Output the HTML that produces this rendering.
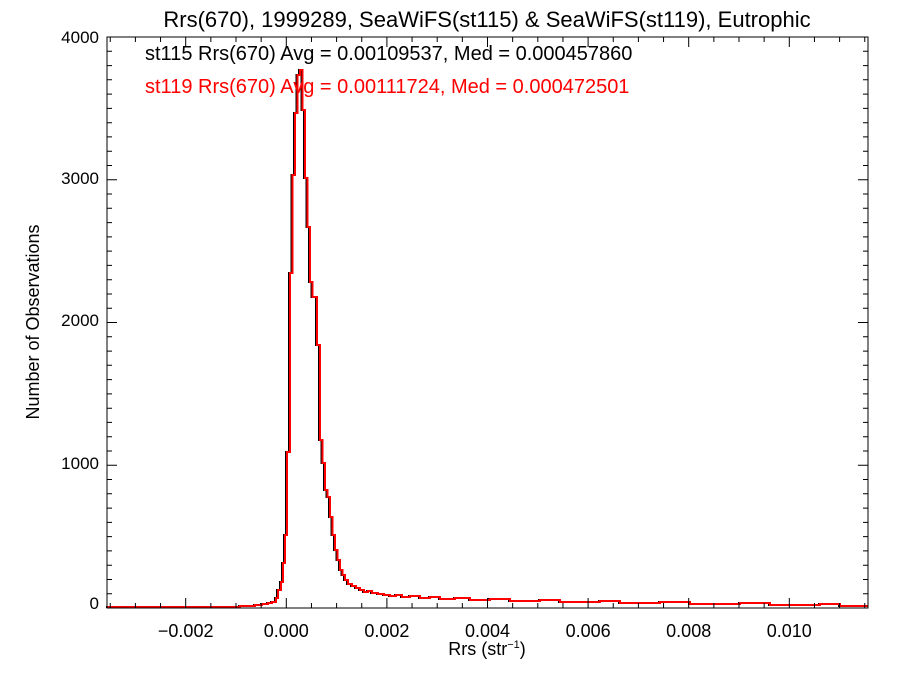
<!DOCTYPE html>
<html><head><meta charset="utf-8"><style>
body{margin:0;background:#fff}
svg{display:block;font-family:"Liberation Sans",Arial,sans-serif}
</style></head><body>
<svg width="900" height="675" viewBox="0 0 900 675" xmlns="http://www.w3.org/2000/svg">
<rect width="900" height="675" fill="#fff"/>
<path d="M106,607 H239 V606 H254 V605 H261 V604 H267 V603 H271 V602 H275 V598 H277 V590 H280 V582 H282 V563 H284 V535 H286 V452 H289 V273 H291.5 V175 H294 V113 H296.5 V75 H299 V70 H301.5 V110 H304 V178 H306.5 V227 H309 V282 H311.5 V297 H316 V345 H319 V440 H321.5 V463 H324 V490 H326.5 V497 H329 V517 H331.5 V535 H334 V550 H336.5 V560 H339 V570 H341.5 V575 H344 V580 H347 V584 H351 V586 H355 V588 H359 V590 H363 V592 H367 V591 H371 V593 H377 V594 H383 V595 H389 V596 H395 V595 H401 V597 H409 V596 H419 V598 H429 V597 H439 V599 H454 V598 H469 V600 H489 V599 H509 V601 H539 V600 H559 V602 H599 V601 H619 V603 H659 V602 H689 V604 H739 V603 H769 V605 H819 V604 H839 V606 H867" fill="none" stroke="#000" stroke-width="2"/>
<path d="M107,607 H240 V606 H255 V605 H262 V604 H268 V603 H272 V602 H276 V598 H278 V590 H281 V582 H283 V563 H285 V535 H287 V452 H290 V273 H292.5 V175 H295 V113 H297.5 V75 H300 V70 H302.5 V110 H305 V178 H307.5 V227 H310 V282 H312.5 V297 H317 V345 H320 V440 H322.5 V463 H325 V490 H327.5 V497 H330 V517 H332.5 V535 H335 V550 H337.5 V560 H340 V570 H342.5 V575 H345 V580 H348 V584 H352 V586 H356 V588 H360 V590 H364 V592 H368 V591 H372 V593 H378 V594 H384 V595 H390 V596 H396 V595 H402 V597 H410 V596 H420 V598 H430 V597 H440 V599 H455 V598 H470 V600 H490 V599 H510 V601 H540 V600 H560 V602 H600 V601 H620 V603 H660 V602 H690 V604 H740 V603 H770 V605 H820 V604 H840 V606 H868" fill="none" stroke="#f00" stroke-width="2"/>
<rect x="107" y="37" width="761" height="571" fill="none" stroke="#000" stroke-width="1"/>
<path stroke="#000" stroke-width="1" fill="none" d="
M110.25,608v-5M135.4,608v-5M160.55,608v-5M185.7,608v-10M210.85,608v-5M236,608v-5M261.15,608v-5M286.3,608v-10M311.45,608v-5M336.6,608v-5M361.75,608v-5M386.9,608v-10M412.05,608v-5M437.2,608v-5M462.35,608v-5M487.5,608v-10M512.65,608v-5M537.8,608v-5M562.95,608v-5M588.1,608v-10M613.25,608v-5M638.4,608v-5M663.55,608v-5M688.7,608v-10M713.85,608v-5M739,608v-5M764.15,608v-5M789.3,608v-10M814.45,608v-5M839.6,608v-5M864.75,608v-5
M110.25,37v5M135.4,37v5M160.55,37v5M185.7,37v10M210.85,37v5M236,37v5M261.15,37v5M286.3,37v10M311.45,37v5M336.6,37v5M361.75,37v5M386.9,37v10M412.05,37v5M437.2,37v5M462.35,37v5M487.5,37v10M512.65,37v5M537.8,37v5M562.95,37v5M588.1,37v10M613.25,37v5M638.4,37v5M663.55,37v5M688.7,37v10M713.85,37v5M739,37v5M764.15,37v5M789.3,37v10M814.45,37v5M839.6,37v5M864.75,37v5
M107,593.7h5M107,579.5h5M107,565.2h5M107,550.9h5M107,536.6h5M107,522.4h5M107,508.1h5M107,493.8h5M107,479.5h5M107,465.25h10M107,451h5M107,436.7h5M107,422.4h5M107,408.2h5M107,393.9h5M107,379.6h5M107,365.3h5M107,351.1h5M107,336.8h5M107,322.5h10M107,308.2h5M107,294h5M107,279.7h5M107,265.4h5M107,251.1h5M107,236.9h5M107,222.6h5M107,208.3h5M107,194h5M107,179.75h10M107,165.5h5M107,151.2h5M107,136.9h5M107,122.7h5M107,108.4h5M107,94.1h5M107,79.8h5M107,65.6h5M107,51.3h5
M868,593.7h-5M868,579.5h-5M868,565.2h-5M868,550.9h-5M868,536.6h-5M868,522.4h-5M868,508.1h-5M868,493.8h-5M868,479.5h-5M868,465.25h-10M868,451h-5M868,436.7h-5M868,422.4h-5M868,408.2h-5M868,393.9h-5M868,379.6h-5M868,365.3h-5M868,351.1h-5M868,336.8h-5M868,322.5h-10M868,308.2h-5M868,294h-5M868,279.7h-5M868,265.4h-5M868,251.1h-5M868,236.9h-5M868,222.6h-5M868,208.3h-5M868,194h-5M868,179.75h-10M868,165.5h-5M868,151.2h-5M868,136.9h-5M868,122.7h-5M868,108.4h-5M868,94.1h-5M868,79.8h-5M868,65.6h-5M868,51.3h-5"/>
<g font-size="18" text-anchor="middle">
<text x="185.7" y="637">−0.002</text>
<text x="286.3" y="637">0.000</text>
<text x="386.9" y="637">0.002</text>
<text x="487.5" y="637">0.004</text>
<text x="588.1" y="637">0.006</text>
<text x="688.7" y="637">0.008</text>
<text x="789.3" y="637">0.010</text>
</g>
<g font-size="17" text-anchor="end">
<text x="99" y="609">0</text>
<text x="99" y="469">1000</text>
<text x="99" y="326">2000</text>
<text x="99" y="184">3000</text>
<text x="99" y="43">4000</text>
</g>
<text x="487" y="27" font-size="22" text-anchor="middle">Rrs(670), 1999289, SeaWiFS(st115) &amp; SeaWiFS(st119), Eutrophic</text>
<text x="145" y="60" font-size="20">st115 Rrs(670) Avg = 0.00109537, Med = 0.000457860</text>
<text x="145" y="93" font-size="20" fill="#f00">st119 Rrs(670) Avg = 0.00111724, Med = 0.000472501</text>
<text x="487" y="655" font-size="18" text-anchor="middle">Rrs (str<tspan font-size="11" dy="-7">−1</tspan><tspan dy="7">)</tspan></text>
<text transform="translate(39,322) rotate(-90)" font-size="18" text-anchor="middle">Number of Observations</text>
</svg>
</body></html>
